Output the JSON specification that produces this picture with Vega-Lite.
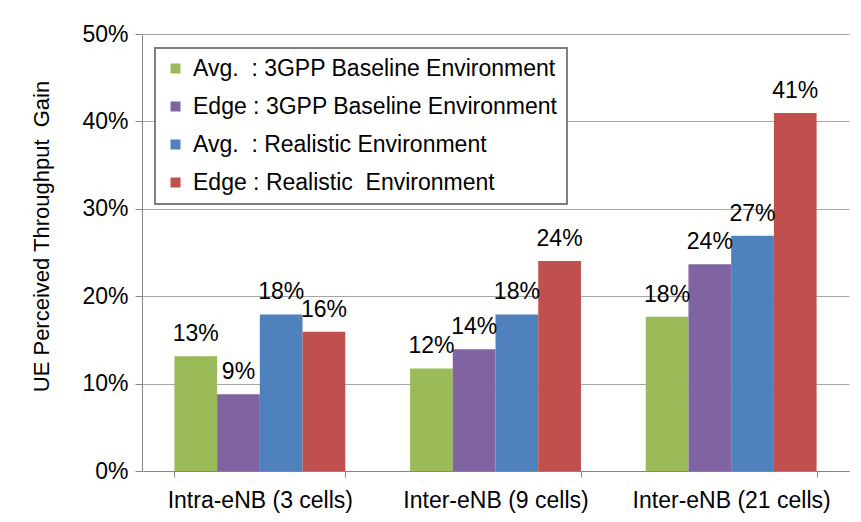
{
  "$schema": "https://vega.github.io/schema/vega-lite/v6.json",
  "width": 707,
  "height": 437,
  "autosize": {"type": "none"},
  "padding": {"left": 142, "top": 34, "right": 12, "bottom": 51},
  "background": "white",
  "config": {
    "view": {"stroke": null},
    "font": "Liberation Sans",
    "legend": {
      "orient": "none",
      "legendX": 13,
      "legendY": 14,
      "padding": 9,
      "strokeColor": "#7f7f7f",
      "strokeWidth": 2,
      "fillColor": "white",
      "symbolType": "square",
      "symbolSize": 100,
      "symbolStrokeWidth": 0,
      "labelFontSize": 23,
      "labelColor": "#000000",
      "labelOffset": 6,
      "labelLimit": 0,
      "rowPadding": 14,
      "title": null
    }
  },
  "data": {
    "values": [
      {"group": "Intra-eNB (3 cells)", "series": "Avg.\u00a0 : 3GPP Baseline Environment", "value": 0.1314},
      {"group": "Intra-eNB (3 cells)", "series": "Edge : 3GPP Baseline Environment", "value": 0.0879},
      {"group": "Intra-eNB (3 cells)", "series": "Avg.\u00a0 : Realistic Environment", "value": 0.1792},
      {"group": "Intra-eNB (3 cells)", "series": "Edge : Realistic\u00a0 Environment", "value": 0.1593},
      {"group": "Inter-eNB (9 cells)", "series": "Avg.\u00a0 : 3GPP Baseline Environment", "value": 0.1173},
      {"group": "Inter-eNB (9 cells)", "series": "Edge : 3GPP Baseline Environment", "value": 0.1394},
      {"group": "Inter-eNB (9 cells)", "series": "Avg.\u00a0 : Realistic Environment", "value": 0.1792},
      {"group": "Inter-eNB (9 cells)", "series": "Edge : Realistic\u00a0 Environment", "value": 0.2403},
      {"group": "Inter-eNB (21 cells)", "series": "Avg.\u00a0 : 3GPP Baseline Environment", "value": 0.1764},
      {"group": "Inter-eNB (21 cells)", "series": "Edge : 3GPP Baseline Environment", "value": 0.2365},
      {"group": "Inter-eNB (21 cells)", "series": "Avg.\u00a0 : Realistic Environment", "value": 0.2693},
      {"group": "Inter-eNB (21 cells)", "series": "Edge : Realistic\u00a0 Environment", "value": 0.4095}
    ]
  },
  "encoding": {
    "x": {
      "field": "group",
      "type": "nominal",
      "sort": ["Intra-eNB (3 cells)", "Inter-eNB (9 cells)", "Inter-eNB (21 cells)"],
      "scale": {"paddingInner": 0.275, "paddingOuter": 0.1375},
      "axis": {
        "title": null,
        "labelAngle": 0,
        "labelFontSize": 23,
        "labelColor": "#000000",
        "labelLimit": 0,
        "labelOverlap": false,
        "labelPadding": 12,
        "tickBand": "extent",
        "tickSize": 6,
        "tickColor": "#868686",
        "domainColor": "#868686",
        "grid": false
      }
    },
    "xOffset": {
      "field": "series",
      "sort": ["Avg.\u00a0 : 3GPP Baseline Environment", "Edge : 3GPP Baseline Environment", "Avg.\u00a0 : Realistic Environment", "Edge : Realistic\u00a0 Environment"],
      "scale": {"paddingInner": 0, "paddingOuter": 0}
    },
    "y": {
      "field": "value",
      "type": "quantitative",
      "scale": {"domain": [0, 0.5]},
      "axis": {
        "title": "UE Perceived Throughput\u00a0 Gain",
        "titleFontSize": 22,
        "titleFontWeight": "normal",
        "titleColor": "#000000",
        "titlePadding": 28,
        "titleY": 202,
        "format": ".0%",
        "values": [0, 0.1, 0.2, 0.3, 0.4, 0.5],
        "labelFontSize": 23,
        "labelColor": "#000000",
        "labelPadding": 7,
        "tickSize": 7,
        "tickColor": "#868686",
        "domainColor": "#868686",
        "gridColor": "#a6a6a6",
        "grid": true
      }
    }
  },
  "layer": [
    {
      "mark": {"type": "bar"},
      "encoding": {
        "color": {
          "field": "series",
          "type": "nominal",
          "sort": ["Avg.\u00a0 : 3GPP Baseline Environment", "Edge : 3GPP Baseline Environment", "Avg.\u00a0 : Realistic Environment", "Edge : Realistic\u00a0 Environment"],
          "scale": {"range": ["#9BBB59", "#8064A2", "#4F81BD", "#C0504D"]}
        }
      }
    },
    {
      "mark": {"type": "text", "baseline": "alphabetic", "dy": -15, "fontSize": 23, "color": "#000000"},
      "encoding": {
        "text": {"field": "value", "type": "quantitative", "format": ".0%"}
      }
    }
  ]
}
